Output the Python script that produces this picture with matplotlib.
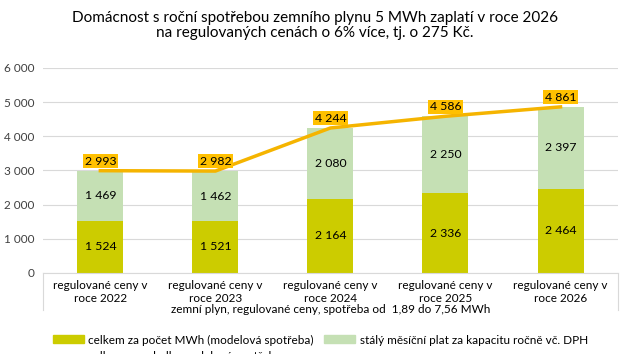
import matplotlib.pyplot as plt
from matplotlib.lines import Line2D
from matplotlib.patches import Patch

# data
kategorie = ['regulované ceny v\nroce 2022', 'regulované ceny v\nroce 2023', 'regulované ceny v\nroce 2024',
             'regulované ceny v\nroce 2025', 'regulované ceny v\nroce 2026']
za_mwh = [1524, 1521, 2164, 2336, 2464]
staly_plat = [1469, 1462, 2080, 2250, 2397]
celkem = [2993, 2982, 4244, 4586, 4861]

titulek = 'Domácnost s roční spotřebou zemního plynu 5 MWh zaplatí v roce 2026\nna regulovaných cenách o 6% více, tj. o 275 Kč.'
osa_x = 'zemní plyn, regulované ceny, spotřeba od  1,89 do 7,56 MWh'
legenda = ['celkem za počet MWh (modelová spotřeba)', 'celkem za rok dle modelové spotřeby',
           'stálý měsíční plat za kapacitu ročně vč. DPH']

plt.rcParams['font.family'] = ['Lato', 'DejaVu Sans']
C_MWH = '#cccc00'
C_PLAT = '#c5e0b4'
C_LINE = '#f5b400'
C_LBL = '#ffc000'

def fmt(v):
    return f'{v:,}'.replace(',', ' ')

fig = plt.figure(figsize=(6.3, 3.54), dpi=100)
ax = fig.add_axes([0.068, 0.229, 0.913, 0.579])

x = range(len(kategorie))
ax.bar(x, za_mwh, width=0.4, color=C_MWH, zorder=2)
ax.bar(x, staly_plat, bottom=za_mwh, width=0.4, color=C_PLAT, zorder=2)
ax.plot(x, celkem, color=C_LINE, lw=2.5, zorder=3)

for i in x:
    ax.text(i, za_mwh[i] / 2, fmt(za_mwh[i]), ha='center', va='center', fontsize=8.8, zorder=4)
    ax.text(i, za_mwh[i] + staly_plat[i] / 2, fmt(staly_plat[i]), ha='center', va='center', fontsize=8.8, zorder=4)
    ax.text(i, celkem[i] + 120, fmt(celkem[i]), ha='center', va='bottom', fontsize=8.8, zorder=5,
            bbox=dict(boxstyle='square,pad=0.12', fc=C_LBL, ec='none'))

ax.set_xlim(-0.5, 4.5)
ax.set_ylim(0, 6000)
ax.set_yticks(range(0, 6001, 1000))
ax.set_yticklabels([fmt(v) for v in range(0, 6001, 1000)], fontsize=8.5, color='#404040')
ax.set_xticks(list(x))
ax.set_xticklabels(kategorie, fontsize=8.5, linespacing=1.2)
ax.tick_params(axis='both', length=0)
ax.tick_params(axis='x', pad=5)
ax.tick_params(axis='y', pad=6)
ax.grid(axis='y', color='#d9d9d9', lw=0.8, zorder=0)
for s in ['top', 'right', 'left']:
    ax.spines[s].set_visible(False)
ax.spines['bottom'].set_color('#d9d9d9')

# ohraničení víceúrovňové osy
for xv in [0, 1]:
    ax.plot([xv, xv], [0, -0.18], transform=ax.transAxes, color='#d9d9d9', lw=0.8, clip_on=False)
ax.text(0.5, -0.18, osa_x, transform=ax.transAxes, ha='center', va='center', fontsize=8.5)

fig.suptitle(titulek, y=0.968, fontsize=11, linespacing=1.1)

handles = [Patch(color=C_MWH), Line2D([], [], color=C_LINE, lw=2.5), Patch(color=C_PLAT)]
fig.legend(handles, legenda, ncol=2, loc='upper left', bbox_to_anchor=(0.084, 0.055), frameon=False,
           fontsize=8.5, handlelength=2.6, handleheight=0.65, columnspacing=0.9, labelspacing=0.45,
           borderaxespad=0, borderpad=0, handletextpad=0.4)

fig.savefig('out.png', dpi=100)
